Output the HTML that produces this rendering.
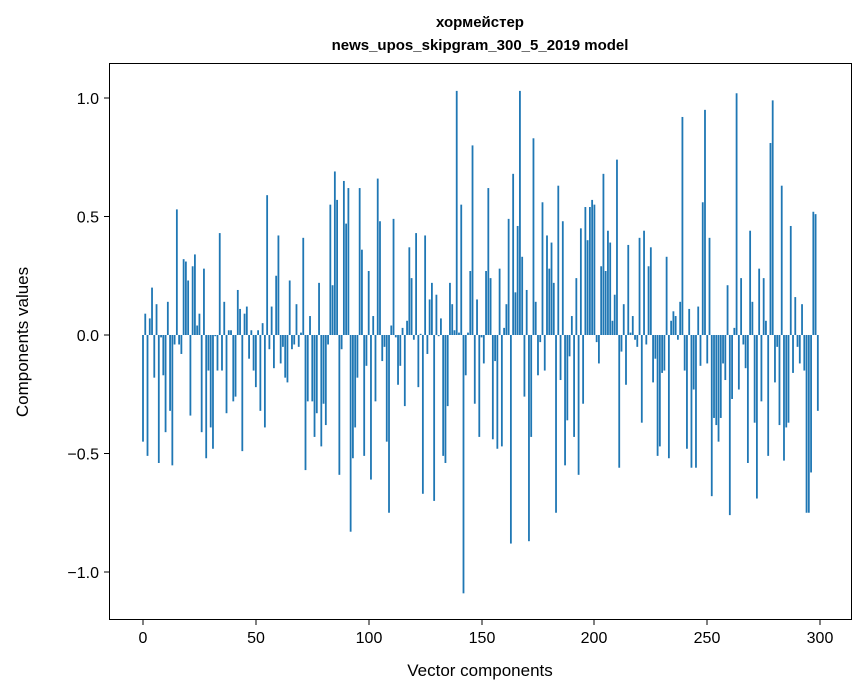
<!DOCTYPE html>
<html><head><meta charset="utf-8"><style>
body{margin:0;background:#fff;}
svg{display:block;font-family:"Liberation Sans","DejaVu Sans",sans-serif;}
</style></head><body>
<svg id="s" width="867" height="696" xmlns="http://www.w3.org/2000/svg">
<rect width="867" height="696" fill="#fff"/>
<text x="480" y="27" text-anchor="middle" font-size="15" font-weight="bold">хормейстер</text>
<text x="480" y="50" text-anchor="middle" font-size="15" font-weight="bold">news_upos_skipgram_300_5_2019 model</text>
<g id="bars" fill="#1f77b4"></g>
<rect x="109.5" y="63.5" width="742" height="556" fill="none" stroke="#000" stroke-width="1"/>
<g stroke="#000" stroke-width="1">
<line x1="143" y1="620" x2="143" y2="625"/><line x1="256" y1="620" x2="256" y2="625"/><line x1="369" y1="620" x2="369" y2="625"/><line x1="482" y1="620" x2="482" y2="625"/><line x1="594" y1="620" x2="594" y2="625"/><line x1="707" y1="620" x2="707" y2="625"/><line x1="820" y1="620" x2="820" y2="625"/>
<line x1="104" y1="572" x2="109" y2="572"/><line x1="104" y1="453.5" x2="109" y2="453.5"/><line x1="104" y1="335" x2="109" y2="335"/><line x1="104" y1="216.5" x2="109" y2="216.5"/><line x1="104" y1="98" x2="109" y2="98"/>
</g>
<g font-size="16" text-anchor="middle">
<text x="143" y="643">0</text><text x="256" y="643">50</text><text x="369" y="643">100</text><text x="482" y="643">150</text><text x="594" y="643">200</text><text x="707" y="643">250</text><text x="820" y="643">300</text>
</g>
<g font-size="16" text-anchor="end">
<text x="99" y="578">−1.0</text><text x="99" y="459.5">−0.5</text><text x="99" y="341">0.0</text><text x="99" y="222.5">0.5</text><text x="99" y="104">1.0</text>
</g>
<text x="480" y="676" text-anchor="middle" font-size="17">Vector components</text>
<text transform="translate(28,342) rotate(-90)" text-anchor="middle" font-size="17">Components values</text>
</svg>
<script>
var v=[-0.45,0.09,-0.51,0.07,0.20,-0.18,0.13,-0.54,-0.01,-0.17,-0.41,0.14,-0.32,-0.55,-0.04,0.53,-0.04,-0.08,0.32,0.31,
0.23,-0.34,0.29,0.34,0.04,0.09,-0.41,0.28,-0.52,-0.15,-0.39,-0.48,-0.005,-0.15,0.43,-0.15,0.14,-0.33,0.02,0.02,
-0.28,-0.26,0.19,0.11,-0.49,0.09,0.12,-0.10,0.02,-0.15,-0.22,0.02,-0.32,0.05,-0.39,0.59,-0.06,0.12,-0.14,0.25,
0.42,-0.12,-0.05,-0.18,-0.20,0.23,-0.06,-0.04,0.13,-0.05,0.01,0.41,-0.57,-0.28,0.08,-0.28,-0.43,-0.33,0.22,-0.47,
-0.29,-0.38,-0.04,0.55,0.21,0.69,0.57,-0.59,-0.06,0.65,0.47,0.62,-0.83,-0.52,-0.39,-0.18,0.62,0.36,-0.51,-0.13,
0.27,-0.61,0.08,-0.28,0.66,0.48,-0.11,-0.05,-0.45,-0.75,0.04,0.49,-0.01,-0.21,-0.13,0.03,-0.30,0.06,0.37,0.24,
-0.02,0.43,-0.22,0.005,-0.67,0.42,-0.08,0.15,0.22,-0.70,0.17,-0.005,0.07,-0.51,-0.54,-0.30,0.22,0.13,0.02,1.03,
0.01,0.55,-1.09,-0.17,0.01,0.27,0.80,-0.29,0.15,-0.43,-0.01,-0.12,0.27,0.62,0.24,-0.44,-0.11,-0.48,0.28,-0.47,
0.03,0.13,0.49,-0.88,0.68,0.18,0.46,1.03,0.33,-0.26,0.19,-0.87,-0.43,0.83,0.14,-0.17,-0.03,0.56,-0.15,0.42,
0.28,0.39,0.22,-0.75,0.63,-0.19,0.48,-0.55,-0.36,-0.09,0.08,-0.43,0.24,-0.59,0.45,-0.29,0.54,0.40,0.54,0.57,
0.55,-0.03,-0.12,0.29,0.68,0.27,0.44,0.39,0.06,0.17,0.74,-0.56,-0.07,0.13,-0.21,0.38,0.01,0.08,-0.02,-0.05,
0.41,-0.37,0.44,-0.04,0.29,0.37,-0.20,-0.10,-0.51,-0.47,-0.16,-0.15,0.33,-0.52,0.06,0.10,0.08,-0.02,0.14,0.92,
-0.15,-0.48,0.11,-0.56,-0.23,-0.56,0.12,-0.13,0.56,0.95,-0.12,0.41,-0.68,-0.35,-0.38,-0.45,-0.35,-0.12,-0.19,0.21,
-0.76,-0.27,0.03,1.02,-0.23,0.24,-0.04,-0.14,-0.54,0.44,0.14,-0.37,-0.69,0.28,-0.28,0.24,0.06,-0.51,0.81,0.99,
-0.20,-0.05,-0.38,0.63,-0.53,-0.39,-0.37,0.46,-0.16,0.16,-0.05,-0.12,0.13,-0.15,-0.75,-0.75,-0.58,0.52,0.51,-0.32];
var g=document.getElementById('bars'),h='';
for(var i=0;i<v.length;i++){var x=143+2.257*i-0.9,y0=335,y1=335-237*v[i];
h+='<rect x="'+x.toFixed(2)+'" y="'+Math.min(y0,y1).toFixed(2)+'" width="1.8" height="'+Math.max(Math.abs(y1-y0),0.5).toFixed(2)+'"/>';}
g.innerHTML=h;
</script>
</body></html>
